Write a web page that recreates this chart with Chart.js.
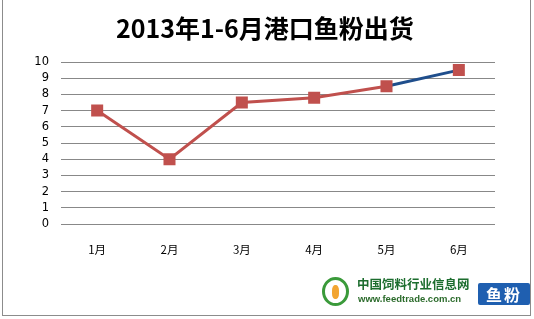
<!DOCTYPE html>
<html>
<head>
<meta charset="utf-8">
<script src="https://cdn.jsdelivr.net/npm/chart.js@4/dist/chart.umd.min.js"></script>
<style>
    html, body { margin: 0; padding: 0; background: #fff; }
    #wrap { position: relative; width: 534px; height: 319px; }
    #title { position: absolute; left: 0; top: 9px; width: 530px; text-align: center; font-family: "Noto Sans CJK SC", sans-serif; font-size: 25px; font-weight: bold; line-height: 36px; color: #000; }
    #frame { position: absolute; left: 2px; top: -1px; width: 529px; height: 317px; border: 1px solid #8c8c8c; box-sizing: border-box; pointer-events: none; }
    #logo { position: absolute; left: 320px; top: 276px; width: 212px; height: 32px; font-family: "Noto Sans CJK SC", sans-serif; }
    #logo .ring { position: absolute; left: 2px; top: 1px; width: 27px; height: 29px; border-radius: 50%; border: 3px solid #3a9a3a; box-sizing: border-box; }
    #logo .ring i { position: absolute; left: 7px; top: 5px; width: 7px; height: 14px; background: #f2a531; border-radius: 40%; }
    #logo .cn { position: absolute; left: 37px; top: 1px; font-size: 12.5px; font-weight: bold; color: #1c6d2e; line-height: 14px; }
    #logo .url { position: absolute; left: 38px; top: 17px; font-size: 9.5px; font-weight: bold; color: #2b6b2b; font-family: "Liberation Sans", sans-serif; line-height: 11px; }
    #logo .tag { position: absolute; left: 158px; top: 7px; width: 52px; height: 22px; background: #1f5fb0; color: #fff; font-size: 16px; font-weight: bold; text-align: center; line-height: 22px; border-radius: 2px; letter-spacing: 2px; }
</style>
</head>
<body>
<div id="wrap">
    <canvas id="fishChart" width="534" height="319"></canvas>
    <div id="title"></div>
    <div id="frame"></div>
    <div id="logo">
        <div class="ring"><i></i></div>
        <div class="cn">中国饲料行业信息网</div>
        <div class="url">www.feedtrade.com.cn</div>
        <div class="tag">鱼粉</div>
    </div>
</div>
<script>
// Chart data
const months = ['1月', '2月', '3月', '4月', '5月', '6月'];
const shipments = [7, 4, 7.5, 7.8, 8.5, 9.5];
const yTicks = [0, 1, 2, 3, 4, 5, 6, 7, 8, 9, 10];
const chartTitle = '2013年1-6月港口鱼粉出货';

const lineRed = '#c0504d';
const lineBlue = '#1f4e8c';

document.getElementById('title').textContent = chartTitle;

const ctx = document.getElementById('fishChart').getContext('2d');

new Chart(ctx, {
    type: 'line',
    data: {
        labels: months,
        datasets: [{
            data: shipments,
            borderColor: lineRed,
            backgroundColor: lineRed,
            borderWidth: 3,
            pointStyle: 'rect',
            pointRadius: 8.5,
            pointHoverRadius: 8.5,
            pointBorderWidth: 0,
            tension: 0,
            segment: {
                // last segment drawn in blue like the original
                borderColor: c => c.p1DataIndex === shipments.length - 1 ? lineBlue : lineRed
            }
        }]
    },
    options: {
        responsive: false,
        animation: false,
        layout: {
            padding: { left: 0, right: 39, top: 62, bottom: 0 }
        },
        plugins: {
            legend: { display: false },
            tooltip: { enabled: false },
            title: { display: false }
        },
        scales: {
            y: {
                min: 0,
                max: 10,
                afterBuildTicks: axis => { axis.ticks = yTicks.map(v => ({ value: v })); },
                afterFit: scale => { scale.width = 61; },
                grid: { color: '#888', lineWidth: 1, drawTicks: false },
                border: { display: false },
                ticks: {
                    autoSkip: false,
                    color: '#000',
                    padding: 12,
                    font: { family: '"DejaVu Sans", sans-serif', size: 11.5 }
                }
            },
            x: {
                offset: true,
                afterFit: scale => { scale.height = 95; },
                grid: { display: false },
                border: { display: false },
                ticks: {
                    color: '#000',
                    padding: 11,
                    font: { family: '"Noto Sans CJK SC", sans-serif', size: 11.5 }
                }
            }
        }
    }
});
</script>
</body>
</html>
